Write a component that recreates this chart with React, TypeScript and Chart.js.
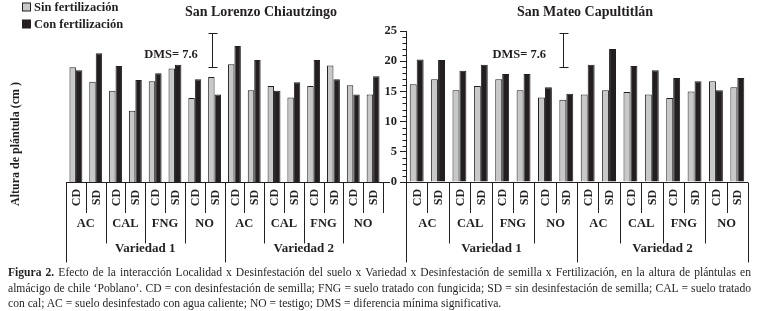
import React, { useEffect, useRef } from "react";
import { Chart, registerables } from "chart.js";
Chart.register(...registerables);

const FONT = '"Liberation Serif", "Times New Roman", serif';
const INK = "#231f20";

// ---- data ----
const varieties = ["Variedad 1", "Variedad 2"];
const soilTreatments = ["AC", "CAL", "FNG", "NO"];
const seedTreatments = ["CD", "SD"];
const categories = varieties.flatMap((v) =>
  soilTreatments.flatMap((s) => seedTreatments.map((d) => `${v} ${s} ${d}`))
);

const seriesLabels = ["Sin fertilización", "Con fertilización"];
const seriesColors = ["#c8c8c8", INK];

const lorenzoTitle = "San Lorenzo Chiautzingo";
const mateoTitle = "San Mateo Capultitlán";

const lorenzoSin = [19.0, 16.6, 15.1, 11.8, 16.7, 18.8, 13.9, 17.4, 19.5, 15.2, 15.9, 14.0, 15.9, 19.3, 16.0, 14.5];
const lorenzoCon = [18.5, 21.3, 19.2, 16.9, 18.0, 19.4, 17.0, 14.5, 22.5, 20.2, 15.1, 16.5, 20.2, 17.0, 14.5, 17.5];
const mateoSin = [16.2, 17.0, 15.2, 15.9, 17.0, 15.2, 14.0, 13.6, 14.5, 15.2, 14.9, 14.5, 13.9, 15.0, 16.7, 15.7];
const mateoCon = [20.3, 20.2, 18.4, 19.4, 17.9, 17.9, 15.7, 14.6, 19.4, 22.0, 19.2, 18.5, 17.2, 16.7, 15.2, 17.2];

const yTickValues = [0, 5, 10, 15, 20, 25];
const yMinorStep = 1;
const yAxisTitle = "Altura de plántula (cm )";

const dmsLabel = "DMS= 7.6";
const dmsLabelAt = [4.8, 21.0]; // [category position, value]
const dmsBracketAt = 6.85; // category position
const dmsBracket = [19.0, 24.6]; // value range

const captionBold = "Figura 2.";
const captionLines = [
  " Efecto de la interacción Localidad x Desinfestación del suelo x Variedad x Desinfestación de semilla x Fertilización, en la altura de plántulas en",
  "almácigo de chile ‘Poblano’. CD = con desinfestación de semilla; FNG = suelo tratado con fungicida; SD = sin desinfestación de semilla; CAL = suelo tratado",
  "con cal; AC = suelo desinfestado con agua caliente; NO = testigo; DMS = diferencia mínima significativa.",
];

const W = 757;
const H = 265;

type Panel = {
  title: string;
  titleX: number;
  sin: number[];
  con: number[];
  showAxis: boolean;
  showLegend: boolean;
  fullRightEdge: boolean;
  axisExtend: number;
  padding: { left: number; right: number; top: number; bottom: number };
};

function decorPlugin(p: Panel) {
  return {
    id: "decor",
    afterDraw(chart: any) {
      const { ctx, chartArea: a } = chart;
      const x = chart.scales.x;
      const y = chart.scales.y;
      const y0 = Math.round(y.getPixelForValue(0)) + 0.5;
      const step = x.getPixelForValue(1) - x.getPixelForValue(0);
      const n = categories.length;
      const edge = (i: number) => Math.round(x.getPixelForValue(i) - step / 2) + 0.5;
      const r1 = y0 + 30.5;
      const r2 = y0 + 61;
      const r3 = y0 + 80;
      ctx.save();
      ctx.strokeStyle = INK;
      ctx.fillStyle = INK;
      ctx.lineWidth = 1;
      // axis line
      ctx.beginPath();
      ctx.moveTo(a.left, y0);
      ctx.lineTo(a.right + p.axisExtend, y0);
      ctx.stroke();
      // separators
      const perGroup = seedTreatments.length;
      const perVar = seedTreatments.length * soilTreatments.length;
      for (let i = 0; i <= n; i++) {
        const ex = edge(i);
        let bottom = r1;
        if (i % perGroup === 0) bottom = r2;
        if (i % perVar === 0) bottom = r3;
        if (i === n && !p.fullRightEdge) bottom = r1;
        ctx.beginPath();
        ctx.moveTo(ex, y0);
        ctx.lineTo(ex, bottom);
        ctx.stroke();
      }
      ctx.textAlign = "center";
      ctx.textBaseline = "middle";
      // row 1 (rotated)
      ctx.font = `bold 12px ${FONT}`;
      for (let i = 0; i < n; i++) {
        const cx = x.getPixelForValue(i);
        ctx.save();
        ctx.translate(cx + 1, y0 + 15);
        ctx.rotate(-Math.PI / 2);
        ctx.fillText(seedTreatments[i % perGroup], 0, 0);
        ctx.restore();
      }
      // row 2
      ctx.font = `bold 12.5px ${FONT}`;
      for (let g = 0; g < n / perGroup; g++) {
        const cx = (x.getPixelForValue(g * perGroup) + x.getPixelForValue(g * perGroup + perGroup - 1)) / 2;
        ctx.fillText(soilTreatments[g % soilTreatments.length], cx, y0 + 41);
      }
      // row 3
      ctx.font = `bold 13px ${FONT}`;
      for (let v = 0; v < varieties.length; v++) {
        const cx = (x.getPixelForValue(v * perVar) + x.getPixelForValue(v * perVar + perVar - 1)) / 2;
        ctx.fillText(varieties[v], cx, y0 + 66);
      }
      // minor ticks
      if (p.showAxis) {
        for (let v = yTickValues[0]; v <= yTickValues[yTickValues.length - 1]; v += yMinorStep) {
          if (yTickValues.includes(v)) continue;
          const py = Math.round(y.getPixelForValue(v)) + 0.5;
          ctx.beginPath();
          ctx.moveTo(a.left - 3.5, py);
          ctx.lineTo(a.left, py);
          ctx.stroke();
        }
      }
      // title
      ctx.font = `bold 14px ${FONT}`;
      ctx.fillText(p.title, p.titleX, 12);
      // DMS
      ctx.font = `bold 12.5px ${FONT}`;
      ctx.fillText(dmsLabel, x.getPixelForValue(dmsLabelAt[0]), y.getPixelForValue(dmsLabelAt[1]));
      const bx = Math.round(x.getPixelForValue(dmsBracketAt)) + 0.5;
      const bt = Math.round(y.getPixelForValue(dmsBracket[1])) + 0.5;
      const bb = Math.round(y.getPixelForValue(dmsBracket[0])) + 0.5;
      ctx.beginPath();
      ctx.moveTo(bx, bt);
      ctx.lineTo(bx, bb);
      ctx.moveTo(bx - 4, bt);
      ctx.lineTo(bx + 5, bt);
      ctx.moveTo(bx - 4, bb);
      ctx.lineTo(bx + 5, bb);
      ctx.stroke();
      // legend + y title
      if (p.showLegend) {
        ctx.textAlign = "left";
        ctx.font = `bold 12.5px ${FONT}`;
        seriesLabels.forEach((lab, k) => {
          const cy = 7 + k * 17;
          ctx.fillStyle = seriesColors[k];
          ctx.fillRect(22.5, cy - 4, 8, 8);
          ctx.strokeStyle = INK;
          ctx.strokeRect(22.5, cy - 4, 8, 8);
          ctx.fillStyle = INK;
          ctx.fillText(lab, 34, cy + 0.5);
        });
        ctx.save();
        ctx.translate(16, 144);
        ctx.rotate(-Math.PI / 2);
        ctx.textAlign = "center";
        ctx.font = `bold 12px ${FONT}`;
        ctx.fillText(yAxisTitle, 0, 0);
        ctx.restore();
      }
      ctx.restore();
    },
  };
}

function makeConfig(p: Panel): any {
  const ds = (k: number, data: number[]) => ({
    label: seriesLabels[k],
    data,
    backgroundColor: seriesColors[k],
    borderColor: INK,
    borderWidth: 1,
    categoryPercentage: 0.65,
    barPercentage: 1,
  });
  return {
    type: "bar",
    data: { labels: categories, datasets: [ds(0, p.sin), ds(1, p.con)] },
    options: {
      animation: false,
      responsive: false,
      maintainAspectRatio: false,
      layout: { padding: p.padding },
      plugins: { legend: { display: false }, tooltip: { enabled: false }, title: { display: false } },
      scales: {
        x: { display: false },
        y: {
          display: p.showAxis,
          min: yTickValues[0],
          max: yTickValues[yTickValues.length - 1],
          afterFit: (s: any) => {
            s.width = 26;
          },
          afterBuildTicks: (s: any) => {
            s.ticks = yTickValues.map((v) => ({ value: v }));
          },
          ticks: { color: INK, padding: 3, font: { family: FONT, size: 12.5, weight: "bold" } },
          grid: { drawOnChartArea: false, drawTicks: true, tickLength: 6, color: INK, tickColor: INK },
          border: { display: true, color: INK, width: 1 },
        },
      },
    },
    plugins: [decorPlugin(p)],
  };
}

const leftPanel: Panel = {
  title: lorenzoTitle,
  titleX: 261,
  sin: lorenzoSin,
  con: lorenzoCon,
  showAxis: false,
  showLegend: true,
  fullRightEdge: false,
  axisExtend: 7,
  padding: { left: 40, right: 374, top: 31, bottom: 83 },
};
const rightPanel: Panel = {
  title: mateoTitle,
  titleX: 585,
  sin: mateoSin,
  con: mateoCon,
  showAxis: true,
  showLegend: false,
  fullRightEdge: true,
  axisExtend: 0,
  padding: { left: 380, right: 9, top: 31, bottom: 83 },
};

export default function App() {
  const ref1 = useRef<HTMLCanvasElement>(null);
  const ref2 = useRef<HTMLCanvasElement>(null);
  useEffect(() => {
    const c1 = new Chart(ref1.current!, makeConfig(leftPanel));
    const c2 = new Chart(ref2.current!, makeConfig(rightPanel));
    return () => {
      c1.destroy();
      c2.destroy();
    };
  }, []);
  const canvasStyle: React.CSSProperties = { position: "absolute", left: 0, top: 0, width: W, height: H };
  const lineStyle: React.CSSProperties = {
    height: 15.5,
    lineHeight: "15.5px",
    textAlign: "justify",
    textAlignLast: "justify" as any,
  };
  return (
    <div
      style={{
        position: "fixed",
        left: 0,
        top: 0,
        width: W,
        height: 311,
        background: "#fff",
        fontFamily: FONT,
        color: INK,
        overflow: "hidden",
      }}
    >
      <canvas ref={ref1} width={W} height={H} style={canvasStyle} />
      <canvas ref={ref2} width={W} height={H} style={canvasStyle} />
      <div style={{ position: "absolute", left: 8, top: 265, width: 743, fontSize: 11.6 }}>
        <div style={lineStyle}>
          <b>{captionBold}</b>
          {captionLines[0]}
        </div>
        <div style={lineStyle}>{captionLines[1]}</div>
        <div style={{ ...lineStyle, textAlign: "left", textAlignLast: "left" as any }}>{captionLines[2]}</div>
      </div>
    </div>
  );
}
